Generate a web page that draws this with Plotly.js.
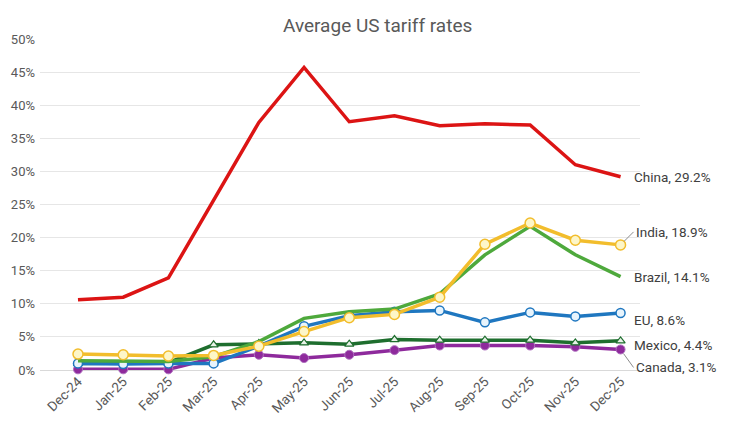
<!DOCTYPE html>
<html><head><meta charset="utf-8">
<script src="https://cdn.plot.ly/plotly-3.0.1.min.js"></script>
<style>html,body{margin:0;padding:0;background:#fff}#chart{width:729px;height:424px}</style>
</head><body><div id="chart"></div>
<script>
const months = ["Dec-24","Jan-25","Feb-25","Mar-25","Apr-25","May-25","Jun-25","Jul-25","Aug-25","Sep-25","Oct-25","Nov-25","Dec-25"];
const china  = [10.6,11.0,13.9,25.7,37.4,45.7,37.5,38.4,36.9,37.2,37.0,31.0,29.2];
const india  = [2.4,2.3,2.1,2.2,3.6,5.8,7.9,8.4,11.0,19.0,22.2,19.6,18.9];
const brazil = [1.4,1.3,1.3,2.0,4.3,7.8,8.8,9.2,11.5,17.4,21.7,17.4,14.1];
const eu     = [1.0,0.9,1.0,1.0,3.6,6.6,8.2,8.8,9.0,7.2,8.7,8.1,8.6];
const mexico = [1.0,1.0,1.1,3.8,4.0,4.1,3.9,4.6,4.5,4.5,4.5,4.1,4.4];
const canada = [0.1,0.1,0.1,1.8,2.3,1.8,2.3,3.0,3.7,3.7,3.7,3.5,3.1];
const yTicks = [0,5,10,15,20,25,30,35,40,45,50];

const xi = months.map((m,i)=>i);
function tr(name, y, color, marker) {
  const t = {type:'scatter', mode: marker ? 'lines+markers' : 'lines', name, x: xi, y,
    line:{color, width:3.5}, cliponaxis:false, hoverinfo:'skip'};
  if (marker) t.marker = marker;
  return t;
}
const data = [
  tr('Canada', canada, '#8e2a9c', {symbol:'circle', size:9, color:'#8e2a9c', line:{color:'#b070c0', width:1}}),
  tr('Mexico', mexico, '#1e6e2e', {symbol:'triangle-up', size:8, color:'#e8f3e8', line:{color:'#1e6e2e', width:1.2}}),
  tr('EU', eu, '#1f77c0', {symbol:'circle', size:9, color:'#e8f4fc', line:{color:'#1f77c0', width:1.5}}),
  tr('Brazil', brazil, '#4ea93c', null),
  tr('India', india, '#f2bd2c', {symbol:'circle', size:10, color:'#fdf6c8', line:{color:'#f2bd2c', width:1.5}}),
  tr('China', china, '#dc1414', null)
];
const labelFont = {family:'Roboto, sans-serif', size:13.5, color:'#404040'};
function lab(name, vals, yshift, arrow, ay) {
  const v = vals[vals.length-1];
  const a = {x: 12, y: v, xref:'x', yref:'y', text: name + ', ' + v.toFixed(1) + '%',
    font: labelFont, xanchor:'left', yanchor:'middle'};
  if (arrow) {
    Object.assign(a, {showarrow:true, arrowhead:0, arrowwidth:1, arrowcolor:'#8c8c8c', ax:13, ay:ay, standoff:5});
  } else {
    Object.assign(a, {showarrow:false, xshift:11, yshift:yshift});
  }
  return a;
}
const annotations = [
  lab('China', china, 0, false),
  lab('India', india, 0, true, -13),
  lab('Brazil', brazil, 0, false),
  lab('EU', eu, -7, false),
  lab('Mexico', mexico, -4, false),
  lab('Canada', canada, 0, true, 18)
];
const layout = {
  width:729, height:424,
  margin:{l:40, r:89, t:39, b:54},
  paper_bgcolor:'#fff', plot_bgcolor:'#fff',
  showlegend:false,
  title:{text:'Average US tariff rates', x:0.518, xanchor:'center', y:0.94, yanchor:'middle',
    font:{family:'Roboto, sans-serif', size:19, color:'#595959'}},
  xaxis:{type:'linear', range:[-0.84,12.43], tickmode:'array', tickvals:xi, ticktext:months,
    tickangle:-45, showgrid:false, zeroline:false, showline:false, ticks:'',
    tickfont:{family:'Roboto, sans-serif', size:13.5, color:'#595959'}},
  yaxis:{range:[0,50], tickmode:'array', tickvals:yTicks, ticktext:yTicks.map(v=>v+'%'),
    showgrid:true, gridcolor:'#e6e6e6', gridwidth:1, zeroline:true, zerolinecolor:'#d9d9d9',
    showline:false, ticks:'', ticklabelstandoff:4,
    tickfont:{family:'Roboto, sans-serif', size:13, color:'#595959'}},
  annotations
};
Plotly.newPlot('chart', data, layout, {staticPlot:true, displayModeBar:false});
</script>
</body></html>
